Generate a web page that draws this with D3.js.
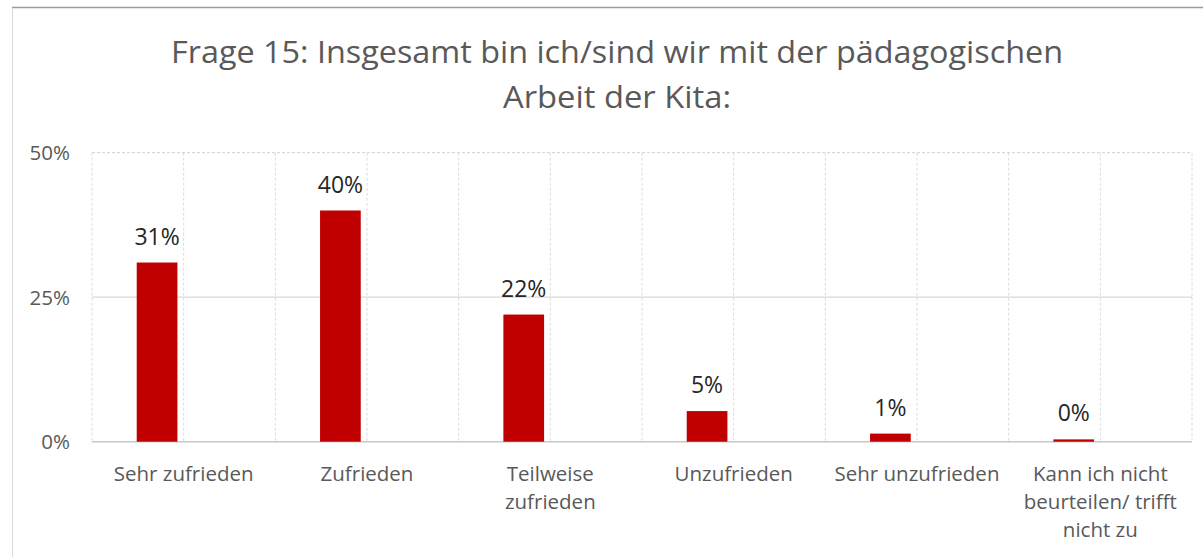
<!DOCTYPE html>
<html>
<head>
<meta charset="utf-8">
<script src="https://cdn.jsdelivr.net/npm/d3@7"></script>
<style>
  html, body { margin: 0; padding: 0; background: #fff; }
  svg { display: block; }
</style>
</head>
<body>
<svg id="chart" width="1203" height="557"></svg>
<script>
// ---- data ----
const titleLines = ["Frage 15: Insgesamt bin ich/sind wir mit der pädagogischen", "Arbeit der Kita:"];
const categories = ["Sehr zufrieden", "Zufrieden", "Teilweise\nzufrieden", "Unzufrieden", "Sehr unzufrieden", "Kann ich nicht\nbeurteilen/ trifft\nnicht zu"];
const values = [0.31, 0.40, 0.22, 0.053, 0.014, 0.004];
const yTicks = [0, 0.25, 0.5];
const slots = [0, 1]; // clustered layout: first slot holds the series, second is empty

// ---- layout ----
const W = 1203, H = 557;
const plot = { left: 92, right: 1192, top: 152.7, bottom: 441.7 };
const svg = d3.select("#chart");
const font = "'Open Sans', sans-serif";

// frame lines
svg.append("line").attr("x1", 12).attr("x2", W).attr("y1", 7.5).attr("y2", 7.5)
  .attr("stroke", "#9a9a9a").attr("stroke-width", 1.5);
svg.append("line").attr("x1", 12.5).attr("x2", 12.5).attr("y1", 8).attr("y2", H)
  .attr("stroke", "#d9d9d9").attr("stroke-width", 1);

// scales
const x = d3.scaleBand().domain(categories).range([plot.left, plot.right]).padding(0);
const xs = d3.scaleBand().domain(slots).range([0, x.bandwidth()])
  .paddingInner(0).paddingOuter(1.2525).align(0.4387);
const y = d3.scaleLinear().domain([0, 0.5]).range([plot.bottom, plot.top]);

// vertical dashed gridlines (category edges and mid-category)
const vx = [];
categories.forEach(c => { vx.push(x(c)); vx.push(x(c) + x.bandwidth() / 2); });
vx.push(plot.right);
svg.append("g").selectAll("line").data(vx).join("line")
  .attr("x1", d => d).attr("x2", d => d)
  .attr("y1", plot.top).attr("y2", plot.bottom)
  .attr("stroke", "#dcdcdc").attr("stroke-width", 1).attr("stroke-dasharray", "3,2");

// horizontal gridlines
svg.append("g").selectAll("line").data(yTicks).join("line")
  .attr("x1", plot.left).attr("x2", plot.right)
  .attr("y1", d => y(d)).attr("y2", d => y(d))
  .attr("stroke", d => d === 0 ? "#c8c8c8" : "#d9d9d9")
  .attr("stroke-width", d => d === 0 ? 1.5 : 1.2)
  .attr("stroke-dasharray", d => d === 0.5 ? "3,2" : null);

// y axis labels
const yAxis = d3.axisLeft(y).tickValues(yTicks).tickFormat(d3.format(".0%")).tickSize(0).tickPadding(0);
const gy = svg.append("g").attr("transform", "translate(70,0)").call(yAxis);
gy.select(".domain").remove();
gy.selectAll("text").attr("font-family", font).attr("font-size", "20.5px")
  .attr("fill", "#595959").attr("dy", "0.35em").attr("text-anchor", "end");

// bars
svg.append("g").selectAll("rect").data(values).join("rect")
  .attr("x", (d, i) => x(categories[i]) + xs(0))
  .attr("width", xs.bandwidth())
  .attr("y", d => y(d))
  .attr("height", d => y(0) - y(d))
  .attr("fill", "#c00000");

// data labels
svg.append("g").selectAll("text").data(values).join("text")
  .attr("x", (d, i) => x(categories[i]) + xs(0) + xs.bandwidth() / 2)
  .attr("y", d => y(d) - 18)
  .attr("text-anchor", "middle")
  .attr("font-family", font).attr("font-size", "23px").attr("fill", "#262626")
  .text(d => d3.format(".0%")(d));

// category labels
const cat = svg.append("g").selectAll("text").data(categories).join("text")
  .attr("text-anchor", "middle")
  .attr("font-family", font).attr("font-size", "20.5px").attr("fill", "#595959");
cat.each(function (c) {
  const t = d3.select(this);
  c.split("\n").forEach((ln, k) => {
    t.append("tspan").attr("x", x(c) + x.bandwidth() / 2).attr("y", 480.7 + k * 28).text(ln);
  });
});

// title
const titleLens = [892, 228];
svg.append("g").selectAll("text").data(titleLines).join("text")
  .attr("x", 617).attr("y", (d, i) => 63.3 + i * 45)
  .attr("text-anchor", "middle")
  .attr("font-family", font).attr("font-size", "31.5px").attr("fill", "#595959")
  .attr("textLength", (d, i) => titleLens[i]).attr("lengthAdjust", "spacingAndGlyphs")
  .text(d => d);
</script>
</body>
</html>
